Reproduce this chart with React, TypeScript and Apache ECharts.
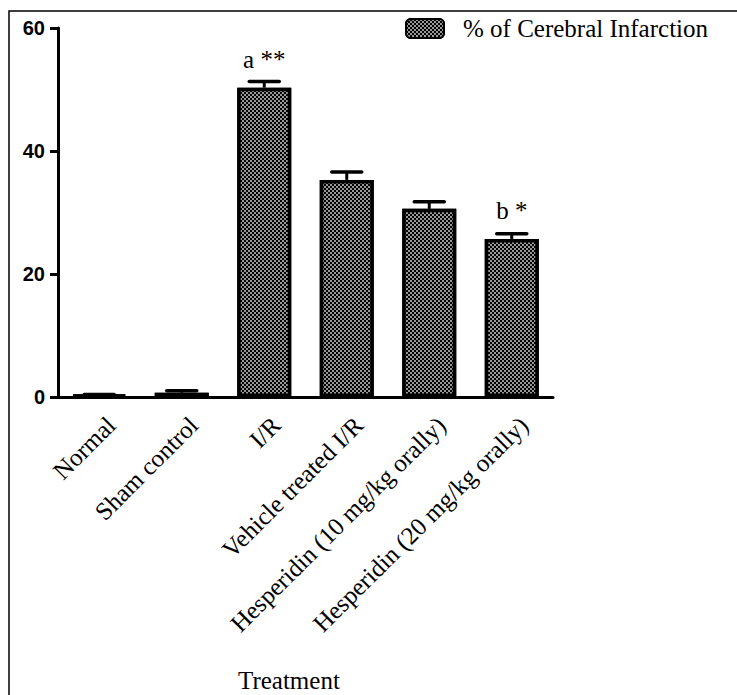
import React, { useEffect, useRef } from 'react';
import * as echarts from 'echarts';

const categories = [
  'Normal',
  'Sham control',
  'I/R',
  'Vehicle treated I/R',
  'Hesperidin (10 mg/kg orally)',
  'Hesperidin (20 mg/kg orally)',
];
const infarction = [0.3, 0.7, 50.3, 35.3, 30.6, 25.7];
const sem = [0.1, 0.3, 1.0, 1.3, 1.15, 0.85];
const sigLabels = ['', '', 'a **', '', '', 'b *'];
const seriesName = '% of Cerebral Infarction';
const axisTitle = 'Treatment';
const yMin = 0;
const yMax = 60;
const yStep = 20;

export default function App() {
  const ref = useRef<HTMLDivElement>(null);

  useEffect(() => {
    const chart = echarts.init(ref.current as HTMLDivElement, null, { renderer: 'svg' });
    const serif = '"Liberation Serif", "Times New Roman", serif';

    const barData = infarction.map((v, i) =>
      sigLabels[i]
        ? { value: v, label: { show: true, formatter: sigLabels[i] } }
        : v
    );
    const errData = infarction.map((v, i) => [i, v, v + sem[i]]);

    const option = {
      animation: false,
      grid: { left: 58, right: 184, top: 28, bottom: 298, containLabel: false },
      legend: {
        show: true,
        data: [{ name: seriesName }],
        left: 405,
        top: 16,
        padding: 0,
        itemWidth: 38,
        itemHeight: 19,
        itemGap: 10,
        selectedMode: false,
        textStyle: {
          fontFamily: serif,
          fontSize: 25,
          color: '#000',
          padding: [0, 0, 0, 14],
        },
      },
      xAxis: {
        type: 'category',
        data: categories,
        axisLine: { lineStyle: { color: '#000', width: 3 } },
        axisTick: { alignWithLabel: true, length: 9, lineStyle: { color: '#000', width: 3 } },
        axisLabel: {
          rotate: 45,
          interval: 0,
          fontFamily: serif,
          fontSize: 25,
          color: '#000',
          margin: 12,
          verticalAlign: 'top',
          lineHeight: 34,
        },
        splitLine: { show: false },
      },
      yAxis: {
        type: 'value',
        min: yMin,
        max: yMax,
        interval: yStep,
        axisLine: { show: true, lineStyle: { color: '#000', width: 3 } },
        axisTick: { show: true, length: 8, lineStyle: { color: '#000', width: 3 } },
        axisLabel: {
          fontFamily: '"Liberation Sans", Arial, sans-serif',
          fontWeight: 'bold',
          fontSize: 20,
          color: '#000',
          margin: 13,
        },
        splitLine: { show: false },
      },
      series: [
        {
          name: seriesName,
          type: 'bar',
          data: barData,
          barWidth: 54,
          itemStyle: {
            color: '#000',
            borderColor: '#000',
            borderWidth: 3.5,
            decal: {
              symbol: 'rect',
              symbolSize: 0.8,
              color: '#fff',
              dashArrayX: [
                [1.5, 1.5],
                [0, 1.5, 1.5, 0],
              ],
              dashArrayY: [1.5, 0],
              rotation: 0,
            },
          },
          label: {
            show: false,
            position: 'top',
            distance: 16,
            fontFamily: serif,
            fontSize: 25,
            color: '#000',
          },
          z: 2,
        },
        {
          name: 'SEM',
          type: 'custom',
          data: errData,
          encode: { x: 0, y: [1, 2] },
          z: 3,
          renderItem: (params: any, api: any) => {
            const x = api.value(0);
            const lo = api.coord([x, api.value(1)]);
            const hi = api.coord([x, api.value(2)]);
            const halfCap = 15;
            return {
              type: 'group',
              children: [
                {
                  type: 'line',
                  shape: { x1: lo[0], y1: lo[1], x2: hi[0], y2: hi[1] },
                  style: { stroke: '#000', lineWidth: 3 },
                },
                {
                  type: 'line',
                  shape: { x1: hi[0] - halfCap, y1: hi[1], x2: hi[0] + halfCap, y2: hi[1] },
                  style: { stroke: '#000', lineWidth: 3.5, lineCap: 'round' },
                },
              ],
            };
          },
        },
      ],
      graphic: [
        {
          type: 'polyline',
          shape: { points: [[9, 695], [9, 11], [737, 11]] },
          style: { stroke: '#000', lineWidth: 1.5, fill: 'none' },
          silent: true,
        },
        {
          type: 'text',
          left: 238,
          top: 668,
          style: { text: axisTitle, font: '25px "Liberation Serif", serif', fill: '#000' },
        },
      ],
    };

    chart.setOption(option as any);
    return () => chart.dispose();
  }, []);

  return (
    <div
      ref={ref}
      style={{ position: 'fixed', left: 0, top: 0, width: 737, height: 695, background: '#fff' }}
    />
  );
}
